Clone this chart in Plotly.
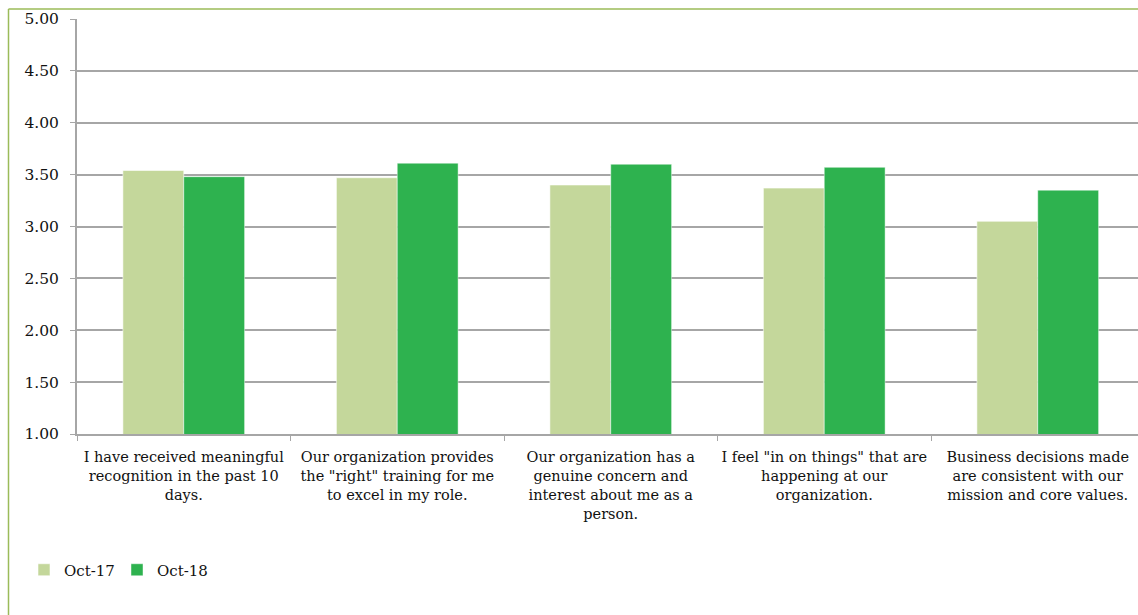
import plotly.graph_objects as go

# Survey items (categories) and their wrapped axis labels
categories = [
    'I have received meaningful recognition in the past 10 days.',
    'Our organization provides the "right" training for me to excel in my role.',
    'Our organization has a genuine concern and interest about me as a person.',
    'I feel "in on things" that are happening at our organization.',
    'Business decisions made are consistent with our mission and core values.',
]
tick_labels = [
    'I have received meaningful<br>recognition in the past 10<br>days.',
    'Our organization provides<br>the "right" training for me<br>to excel in my role.',
    'Our organization has a<br>genuine concern and<br>interest about me as a<br>person.',
    'I feel "in on things" that are<br>happening at our<br>organization.',
    'Business decisions made<br>are consistent with our<br>mission and core values.',
]

# Mean scores per survey wave
oct_17 = [3.54, 3.47, 3.40, 3.37, 3.05]
oct_18 = [3.48, 3.61, 3.60, 3.57, 3.35]

W, H = 1138, 615
ML, MT, MB = 77, 19, 181
plot_w = W - ML
plot_h = H - MT - MB

FONT = "DejaVu Serif"
TEXT = "#111111"
GRID = "#A6A6A6"
FRAME = "#9BBB59"

fig = go.Figure()
fig.add_trace(go.Bar(
    name="Oct-17", x=categories, y=oct_17,
    marker=dict(color="#C4D79B", line=dict(color="rgba(255,255,255,0.55)", width=1)),
))
fig.add_trace(go.Bar(
    name="Oct-18", x=categories, y=oct_18,
    marker=dict(color="#2EB24F", line=dict(color="rgba(255,255,255,0.45)", width=1)),
))

# category step is ~213.5 px; the plot runs past the right edge of the frame
step = 213.5
x_end = -0.5 + plot_w / step


def px_x(px):
    return (px - ML) / plot_w


def px_y(py):
    return (H - MB - py) / plot_h


fig.update_layout(
    width=W, height=H,
    margin=dict(l=ML, r=0, t=MT, b=MB),
    paper_bgcolor="white", plot_bgcolor="white",
    barmode="group", bargap=0.43, bargroupgap=0,
    font=dict(family=FONT, color=TEXT, size=15),
    showlegend=True,
    legend=dict(
        orientation="h", x=px_x(24), y=px_y(570), xanchor="left", yanchor="middle",
        font=dict(family=FONT, size=15, color=TEXT),
        itemwidth=30, traceorder="normal",
        entrywidth=48, entrywidthmode="pixels",
        bgcolor="rgba(0,0,0,0)",
    ),
    xaxis=dict(
        type="category", range=[-0.5, x_end],
        tickmode="array", tickvals=categories, ticktext=tick_labels,
        tickson="boundaries", ticks="outside", ticklen=5, tickcolor=GRID,
        showline=True, linecolor=GRID, linewidth=2,
        showgrid=False, tickangle=0, ticklabelstandoff=9,
        tickfont=dict(family=FONT, size=14.5, color=TEXT),
    ),
    yaxis=dict(
        range=[1, 5], dtick=0.5, tick0=1, tickformat=".2f",
        showgrid=True, gridcolor=GRID, gridwidth=2,
        showline=True, linecolor=GRID, linewidth=2,
        ticks="outside", ticklen=5, tickcolor=GRID,
        zeroline=False, ticklabelstandoff=8,
        tickfont=dict(family=FONT, size=15.5, color=TEXT),
    ),
    shapes=[
        dict(type="line", xref="paper", yref="paper",
             x0=px_x(8.5), x1=px_x(8.5), y0=px_y(9), y1=px_y(H + 5),
             line=dict(color=FRAME, width=1.5)),
        dict(type="line", xref="paper", yref="paper",
             x0=px_x(8.5), x1=px_x(W + 5), y0=px_y(9), y1=px_y(9),
             line=dict(color=FRAME, width=1.5)),
    ],
)

fig.write_html("out.html")
